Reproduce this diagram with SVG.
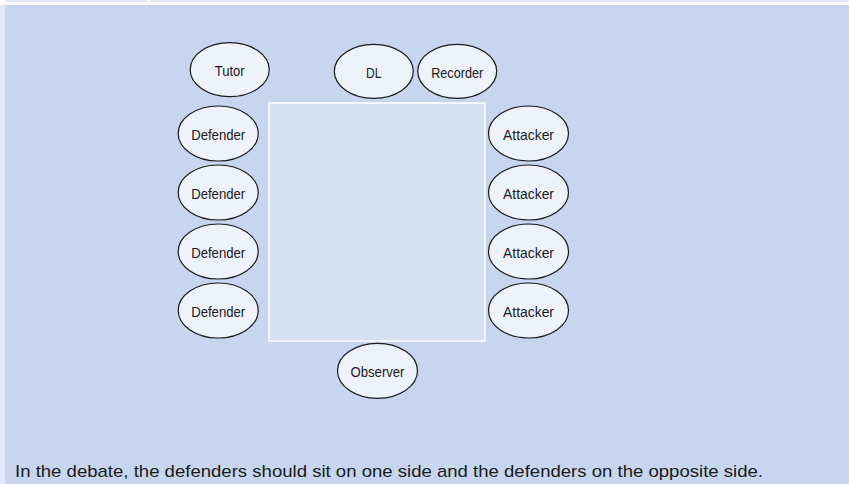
<svg xmlns="http://www.w3.org/2000/svg" width="849" height="484" viewBox="0 0 849 484">
<defs>
<style>
.seat{fill:#eef2fb;stroke:#1a1a1a;stroke-width:1.2}
.lbl{font-family:"Liberation Sans",Arial,sans-serif;font-size:14.5px;fill:#1a1a1a;text-anchor:middle}
.cap{font-family:"Liberation Sans",Arial,sans-serif;font-size:17px;fill:#1a1a1a}
</style>
</defs>
<rect x="0" y="0" width="849" height="484" fill="#ffffff"/>
<rect x="0" y="5" width="5" height="479" fill="#e2e8f6"/>
<rect x="5" y="0" width="142" height="2" fill="#e3e8f6"/>
<rect x="150" y="0" width="699" height="2" fill="#e3e8f6"/>
<rect x="5" y="5" width="844" height="479" fill="#c7d6ee"/>
<g id="table">
<rect x="269" y="103" width="216" height="238" fill="#d6e2f4" stroke="#ffffff" stroke-width="1.5"/>
</g>
<g id="tutor"><ellipse class="seat" cx="229.7" cy="69.7" rx="39.5" ry="27"/><text class="lbl" x="229.7" y="76" textLength="30" lengthAdjust="spacingAndGlyphs">Tutor</text></g>
<g id="dl"><ellipse class="seat" cx="373.8" cy="71.3" rx="39.5" ry="27"/><text class="lbl" x="373.8" y="77.5" textLength="15.5" lengthAdjust="spacingAndGlyphs">DL</text></g>
<g id="recorder"><ellipse class="seat" cx="457.2" cy="71.3" rx="39.5" ry="27"/><text class="lbl" x="457.2" y="77.5" textLength="52" lengthAdjust="spacingAndGlyphs">Recorder</text></g>
<g id="defender1"><ellipse class="seat" cx="218.2" cy="133.5" rx="40" ry="27.5"/><text class="lbl" x="218.2" y="139.8" textLength="54" lengthAdjust="spacingAndGlyphs">Defender</text></g>
<g id="defender2"><ellipse class="seat" cx="218.2" cy="192.5" rx="40" ry="27.5"/><text class="lbl" x="218.2" y="198.8" textLength="54" lengthAdjust="spacingAndGlyphs">Defender</text></g>
<g id="defender3"><ellipse class="seat" cx="218.2" cy="251.5" rx="40" ry="27.5"/><text class="lbl" x="218.2" y="257.8" textLength="54" lengthAdjust="spacingAndGlyphs">Defender</text></g>
<g id="defender4"><ellipse class="seat" cx="218.2" cy="310.5" rx="40" ry="27.5"/><text class="lbl" x="218.2" y="316.8" textLength="54" lengthAdjust="spacingAndGlyphs">Defender</text></g>
<g id="attacker1"><ellipse class="seat" cx="528.5" cy="133.5" rx="40" ry="27.5"/><text class="lbl" x="528.5" y="139.8" textLength="51" lengthAdjust="spacingAndGlyphs">Attacker</text></g>
<g id="attacker2"><ellipse class="seat" cx="528.5" cy="192.5" rx="40" ry="27.5"/><text class="lbl" x="528.5" y="198.8" textLength="51" lengthAdjust="spacingAndGlyphs">Attacker</text></g>
<g id="attacker3"><ellipse class="seat" cx="528.5" cy="251.5" rx="40" ry="27.5"/><text class="lbl" x="528.5" y="257.8" textLength="51" lengthAdjust="spacingAndGlyphs">Attacker</text></g>
<g id="attacker4"><ellipse class="seat" cx="528.5" cy="310.5" rx="40" ry="27.5"/><text class="lbl" x="528.5" y="316.8" textLength="51" lengthAdjust="spacingAndGlyphs">Attacker</text></g>
<g id="observer"><ellipse class="seat" cx="377.5" cy="370.8" rx="40" ry="27.5"/><text class="lbl" x="377.5" y="377" textLength="54" lengthAdjust="spacingAndGlyphs">Observer</text></g>
<g id="connectors"></g>
<text class="cap" x="15" y="476.5" textLength="748" lengthAdjust="spacingAndGlyphs">In the debate, the defenders should sit on one side and the defenders on the opposite side.</text>
</svg>
